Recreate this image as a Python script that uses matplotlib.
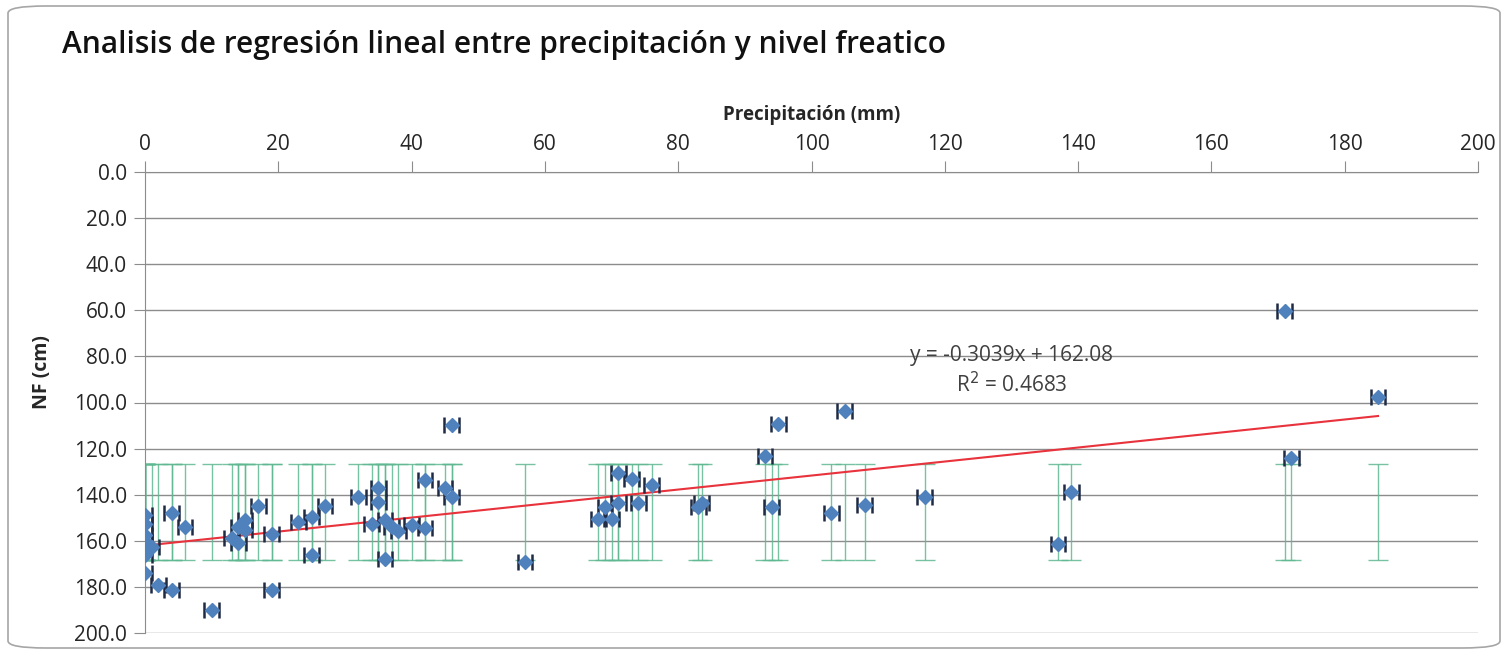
import matplotlib.pyplot as plt
from matplotlib.patches import FancyBboxPatch
from matplotlib.ticker import FormatStrFormatter

plt.rcParams['font.family'] = ['Open Sans', 'DejaVu Sans']

# Datos
precip = [0, 0, 0, 0, 0, 0, 1, 2, 4, 4, 6, 10, 13, 14, 14, 15, 15, 17, 19, 19,
          23, 25, 25, 27, 32, 35, 35, 34, 36, 36, 37, 38, 40, 42, 42, 45, 46, 46,
          57, 68, 69, 70, 71, 71, 73, 74, 76, 83, 83.5, 93, 94, 95, 103, 105,
          108, 117, 137, 139, 171, 172, 185]
nf = [149, 152.5, 157.5, 160, 166, 174, 162.5, 179, 181.5, 148, 154, 190, 159, 161, 154,
      151, 155.5, 145, 157, 181.5, 152, 149.5, 166, 145, 141, 137, 143, 152.5, 151, 168,
      154, 155.8, 153, 133.5, 154.3, 137, 141, 109.8, 169, 150.7, 145.5, 150.7, 130.4,
      143.7, 133, 143.7, 135.8, 145.5, 143.5, 123, 145.5, 109.3, 147.8, 103.7, 144.5,
      141, 161.4, 138.7, 60.3, 124, 97.6]
x_err = 1.1

# Barras verdes (rango de NF)
nf_low = 126.7
nf_high = 168.3

# Linea de tendencia
pendiente = -0.3039
intercepto = 162.08
r2 = 0.4683

fig = plt.figure(figsize=(15.09, 6.54), dpi=100)
ax = fig.add_axes([145 / 1509, 1 - 633 / 654, (1478 - 145) / 1509, (633 - 172) / 654])

fig.patches.append(FancyBboxPatch((8 / 1509, 6 / 654), 1492 / 1509, 642 / 654,
                                  boxstyle="round,pad=0,rounding_size=0.025",
                                  transform=fig.transFigure, facecolor='white',
                                  edgecolor='#a6a6a6', linewidth=1.2, zorder=-1,
                                  mutation_aspect=654 / 1509))

# barras verdes
centro = (nf_low + nf_high) / 2
mitad = (nf_high - nf_low) / 2
ax.errorbar(precip, [centro] * len(precip), yerr=mitad, fmt='none',
            ecolor='#5fb892', elinewidth=1, capsize=7, capthick=1, alpha=0.85, zorder=2)

# linea de tendencia
xs = [0, max(precip)]
ax.plot(xs, [pendiente * v + intercepto for v in xs], color='#e8323c', lw=1.5, zorder=3)

# puntos
ax.errorbar(precip, nf, xerr=x_err, fmt='D', color='#4f81bd', markersize=7.5,
            ecolor='#1f2a44', elinewidth=1.4, capsize=6, capthick=1.8, zorder=4)

ax.set_xlim(0, 200)
ax.set_ylim(200, 0)
ax.set_xticks(range(0, 201, 20))
ax.set_yticks(range(0, 201, 20))
ax.yaxis.set_major_formatter(FormatStrFormatter('%.1f'))
ax.xaxis.tick_top()
ax.xaxis.set_label_position('top')
ax.grid(True, axis='y', color='#8c8c8c', lw=1)
ax.set_axisbelow(True)
for s in ['right', 'bottom']:
    ax.spines[s].set_visible(False)
for s in ['top', 'left']:
    ax.spines[s].set_color('#8c8c8c')
ax.tick_params(axis='both', colors='#8c8c8c', length=8, labelcolor='#262626',
               labelsize=15)
ax.tick_params(axis='x', pad=4)
ax.tick_params(axis='y', pad=5)
ax.set_xlabel('Precipitación (mm)', fontsize=13.5, fontweight='bold', labelpad=10,
              color='#262626')
fig.text(42 / 1509, 1 - 372 / 654, 'NF (cm)', rotation=90, fontsize=14,
         fontweight='bold', ha='center', va='center', color='#262626')

ax.text(130, 79.6, 'y = -0.3039x + 162.08', fontsize=15, ha='center', va='center',
        color='#404040')
ax.text(130, 92.2, 'R$^2$ = ' + f'{r2:.4f}', fontsize=15, ha='center', va='center',
        color='#404040')

fig.text(62 / 1509, 1 - 45 / 654, 'Analisis de regresión lineal entre precipitación y nivel freatico',
         fontsize=21.5, fontweight='semibold', ha='left', va='center', color='#111111')

fig.savefig('out.png', dpi=100)
